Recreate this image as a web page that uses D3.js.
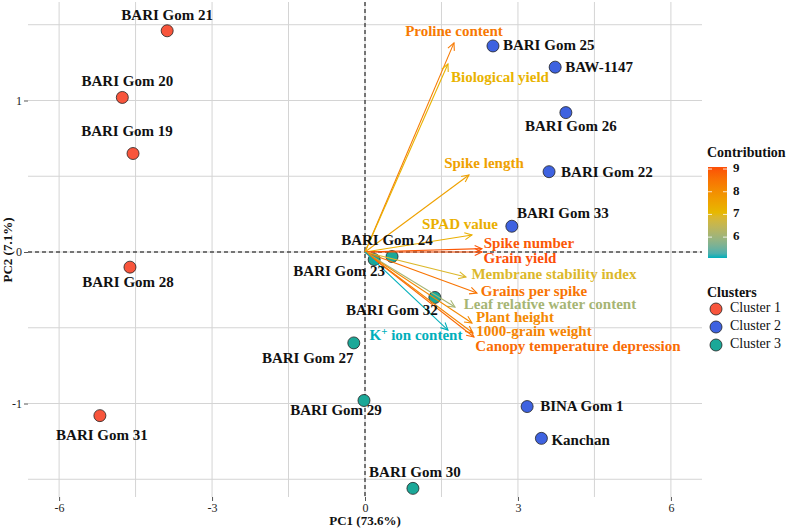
<!DOCTYPE html>
<html><head><meta charset="utf-8">
<script src="https://cdn.jsdelivr.net/npm/d3@7"></script>
<style>body{margin:0;background:#fff}svg{display:block}text{font-family:"Liberation Serif","DejaVu Serif",serif}</style>
</head><body><svg id="c" width="789" height="529"></svg>
<script>
// ---- data ----
const genotypes = ["BARI Gom 21","BARI Gom 20","BARI Gom 19","BARI Gom 28","BARI Gom 31",
  "BARI Gom 25","BAW-1147","BARI Gom 26","BARI Gom 22","BARI Gom 33","BINA Gom 1","Kanchan",
  "BARI Gom 24","BARI Gom 23","BARI Gom 32","BARI Gom 27","BARI Gom 29","BARI Gom 30"];
const pc1 = [-3.88,-4.76,-4.55,-4.61,-5.20, 2.51,3.73,3.94,3.61,2.88,3.18,3.46, 0.53,0.18,1.37,-0.22,-0.02,0.94];
const pc2 = [1.46,1.02,0.65,-0.10,-1.08, 1.36,1.22,0.92,0.53,0.17,-1.02,-1.23, -0.03,-0.05,-0.30,-0.60,-0.98,-1.56];
const cluster = [1,1,1,1,1, 2,2,2,2,2,2,2, 3,3,3,3,3,3];

const variables = ["Proline content","Biological yield","Spike length","SPAD value","Spike number","Grain yield",
  "Membrane stability index","Grains per spike","Leaf relative water content","Plant height","1000-grain weight",
  "Canopy temperature depression","K+ ion content"];
const varPC1 = [1.745,1.627,2.039,2.098,2.294,2.294,1.980,2.196,1.765,2.098,2.118,2.137,1.627];
const varPC2 = [1.380,1.241,0.508,0.112,0.022,0.000,-0.165,-0.271,-0.363,-0.469,-0.535,-0.561,-0.515];
const contrib = [8.4,7.2,7.6,7.3,8.95,9.09,6.9,8.5,6.1,8.1,8.2,8.65,5.08];

const xTicks = [-6,-3,0,3,6];
const yTicks = [-1,0,1];
const contribTicks = [6,7,8,9];
const clusterNames = ["Cluster 1","Cluster 2","Cluster 3"];

// ---- layout (label offsets in px relative to mark) ----
const genoLabelOff = [[0,-14],[5,-15],[-6,-21],[-2,16],[2,21],
  [10,1,"start"],[10,1,"start"],[5,15],[12,2,"start"],[51,-12],[13,1,"start"],[10,3,"start"],
  [-5,-15],[-35,13],[-43,14],[-46,17],[-28,11],[2,-15]];
const varLabelOff = [[0,-10],[52,15],[15,-10],[-12,-9],[47,-4],[38,8],[88,-1],[57,0],[95,-1],[43,-4],[61,0],[104,11],[-32,7]];

const svg = d3.select("#c");
const x = d3.scaleLinear().domain([-6.61,6.61]).range([28,702]);
const y = d3.scaleLinear().domain([-1.617,1.65]).range([497,2]);
const col = d3.scaleLinear().domain([5.08,7.085,9.09]).range(["#00AFBB","#E7B800","#FC4E07"]).interpolate(d3.interpolateLab);
const clCol = {1:"#F8553C",2:"#3E62E0",3:"#1BA898"};

// grid
const g = svg.append("g");
const xMinor = [-4.5,-1.5,1.5,4.5], yMinor = [-1.5,-0.5,0.5,1.5];
[...xTicks,...xMinor].forEach(v=>g.append("line").attr("x1",x(v)).attr("x2",x(v)).attr("y1",2).attr("y2",497).attr("stroke","#d4d4d4").attr("stroke-width",1));
[...yTicks,...yMinor].forEach(v=>g.append("line").attr("x1",28).attr("x2",702).attr("y1",y(v)).attr("y2",y(v)).attr("stroke","#d4d4d4").attr("stroke-width",1));

// axes
const fmt = d => String(d);
const ax = svg.append("g").attr("transform","translate(0,497)")
  .call(d3.axisBottom(x).tickValues(xTicks).tickSize(4).tickPadding(2).tickFormat(fmt));
const ay = svg.append("g").attr("transform","translate(28,0)")
  .call(d3.axisLeft(y).tickValues(yTicks).tickSize(4).tickPadding(2).tickFormat(fmt));
[ax,ay].forEach(a=>{a.select(".domain").remove();a.selectAll("line").attr("stroke","#555");
  a.selectAll("text").attr("fill","#222").style("font-size","12px").style("font-family","Liberation Serif");});

// dashed zero lines
svg.append("line").attr("x1",28).attr("x2",702).attr("y1",y(0)).attr("y2",y(0)).attr("stroke","#000").attr("stroke-dasharray","4,3");
svg.append("line").attr("x1",x(0)).attr("x2",x(0)).attr("y1",2).attr("y2",497).attr("stroke","#000").attr("stroke-dasharray","4,3");

// points
const pts = genotypes.map((n,i)=>({n,x:pc1[i],y:pc2[i],c:cluster[i],o:genoLabelOff[i]}));
svg.append("g").selectAll("circle").data(pts).join("circle")
  .attr("cx",d=>x(d.x)).attr("cy",d=>y(d.y)).attr("r",6)
  .attr("fill",d=>clCol[d.c]).attr("stroke","#222").attr("stroke-width",0.8);

// arrows
const vars = variables.map((n,i)=>({n,x:varPC1[i],y:varPC2[i],c:contrib[i],o:varLabelOff[i]}));
const ag = svg.append("g");
vars.forEach(d=>{
  const x0=x(0),y0=y(0),x1=x(d.x),y1=y(d.y);
  const a=Math.atan2(y1-y0,x1-x0), L=8, s=0.45;
  const c=col(d.c);
  ag.append("line").attr("x1",x0).attr("y1",y0).attr("x2",x1).attr("y2",y1).attr("stroke",c).attr("stroke-width",1.1);
  ag.append("path").attr("d",`M${x1-L*Math.cos(a-s)},${y1-L*Math.sin(a-s)}L${x1},${y1}L${x1-L*Math.cos(a+s)},${y1-L*Math.sin(a+s)}`)
    .attr("fill","none").attr("stroke",c).attr("stroke-width",1.1);
});

// variable labels
vars.forEach(d=>{
  const t=svg.append("text").attr("x",x(d.x)+d.o[0]).attr("y",y(d.y)+d.o[1]).attr("text-anchor","middle")
    .attr("dominant-baseline","middle").attr("fill",col(d.c)).style("font-size","15px").style("font-weight","bold");
  if(d.n.startsWith("K+")){t.append("tspan").text("K");t.append("tspan").attr("dy",-5).style("font-size","11px").text("+");t.append("tspan").attr("dy",5).text(" ion content");}
  else t.text(d.n);
});

// genotype labels
pts.forEach(d=>{
  svg.append("text").attr("x",x(d.x)+d.o[0]).attr("y",y(d.y)+d.o[1]).attr("text-anchor",d.o[2]||"middle")
    .attr("dominant-baseline","middle").attr("fill","#111").style("font-size","15px").style("font-weight","bold").text(d.n);
});

// axis titles
svg.append("text").attr("x",365).attr("y",525).attr("text-anchor","middle").attr("fill","#111").style("font-size","13px").style("font-weight","bold").text("PC1 (73.6%)");
svg.append("text").attr("transform","translate(12,250) rotate(-90)").attr("text-anchor","middle").attr("fill","#111").style("font-size","13px").style("font-weight","bold").text("PC2 (7.1%)");

// colorbar legend
const lg = svg.append("g");
lg.append("text").attr("x",707).attr("y",157).attr("fill","#111").style("font-size","14px").style("font-weight","bold").text("Contribution");
const defs=svg.append("defs");
const grad=defs.append("linearGradient").attr("id","cg").attr("x1",0).attr("y1",1).attr("x2",0).attr("y2",0);
d3.range(0,1.0001,0.05).forEach(t=>grad.append("stop").attr("offset",t).attr("stop-color",col(5.08+t*(9.09-5.08))));
const cb = d3.scaleLinear().domain([5.08,9.09]).range([258,167]);
lg.append("rect").attr("x",708).attr("y",167).attr("width",19).attr("height",91).attr("fill","url(#cg)");
contribTicks.forEach(v=>{
  lg.append("line").attr("x1",708).attr("x2",712).attr("y1",cb(v)).attr("y2",cb(v)).attr("stroke","#fff").attr("stroke-opacity",0.8);
  lg.append("line").attr("x1",723).attr("x2",727).attr("y1",cb(v)).attr("y2",cb(v)).attr("stroke","#fff").attr("stroke-opacity",0.8);
  lg.append("text").attr("x",733).attr("y",cb(v)).attr("dominant-baseline","middle").attr("fill","#111").style("font-size","13px").style("font-weight","bold").text(v);
});

// cluster legend
lg.append("text").attr("x",707).attr("y",297).attr("fill","#111").style("font-size","14px").style("font-weight","bold").text("Clusters");
clusterNames.forEach((n,i)=>{
  const yy=309+i*18;
  lg.append("circle").attr("cx",716).attr("cy",yy).attr("r",6).attr("fill",clCol[i+1]).attr("stroke","#222").attr("stroke-width",0.8);
  lg.append("text").attr("x",730).attr("y",yy).attr("dominant-baseline","middle").attr("fill","#111").style("font-size","14px").text(n);
});
</script></body></html>
